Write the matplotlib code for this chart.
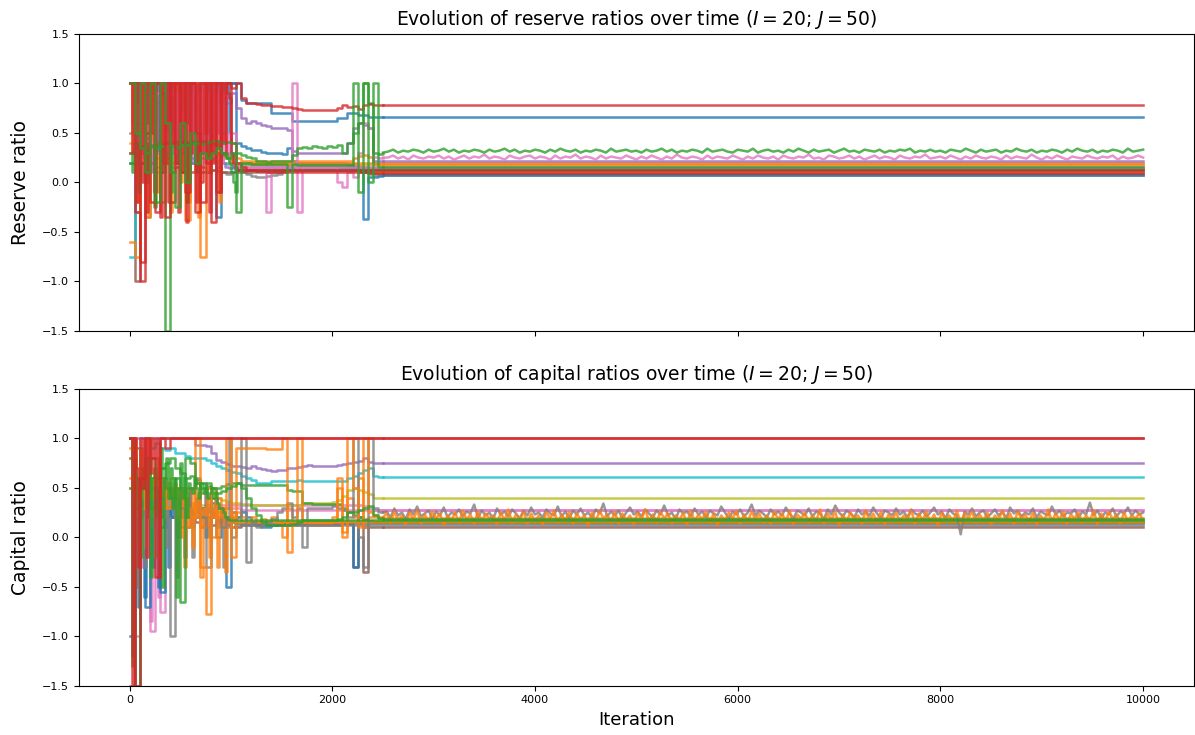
#!/usr/bin/env python3
"""
Reserve ratios and capital ratios over the iterations (I = 20 banks; J = 50).
Two stacked panels, shared x axis. Values read off the original figure.
"""

import numpy as np
import matplotlib
matplotlib.use("Agg")
import matplotlib.pyplot as plt

# ---------------------------------------------------------------------------
# Data: each series = early values on a regular iteration grid (step 50, or
# step 20 for the very spiky ones) followed by the values after convergence
# (a single value when the series stays flat up to iteration 10000).
# ---------------------------------------------------------------------------
LAST_ITER = 10000
YTICKS = [-1.5, -1.0, -0.5, 0.0, 0.5, 1.0, 1.5]

# --- reserve ratios (top panel) ---
RES_RED_A = [1.0, -0.3, -1.0, 1.0, -0.2, 1.0, 0.9, -0.35, 1.0, 0.2,
             1.0, -0.1, 1.0, 0.5, -0.2, 1.0, -0.4, 1.0, 0.3, 1.0,
             0.95, 1.0, 0.85, 0.80, 0.80, 0.79, 0.78, 0.78, 0.77, 0.77,
             0.76, 0.76, 0.75, 0.74, 0.73, 0.73, 0.73, 0.73, 0.73, 0.73,
             0.73, 0.75, 0.78, 0.76, 0.77, 0.74, 0.78, 0.79, 0.78, 0.78, 0.78]
RES_RED_A_LATE = [0.78]

RES_RED_B = [1.0, 1.0, -0.8, 0.5, 1.0, -0.3, 1.0, 1.0, -0.2, 1.0,
             0.1, 1.0, 1.0, -0.3, 1.0, 0.2, 1.0, -0.1, 1.0, 1.0,
             0.4, 0.2, 0.15, 0.12, 0.12, 0.11, 0.11, 0.10, 0.10, 0.10,
             0.10, 0.10, 0.10, 0.10, 0.10, 0.10, 0.10, 0.10, 0.10, 0.10,
             0.10, 0.10, 0.10, 0.10, 0.10, 0.10, 0.10, 0.10, 0.09, 0.09, 0.09]
RES_RED_B_LATE = [0.09]

RES_RED_C = [1.0, 0.3, 1.0, -0.2, 1.0, 1.0, 0.0, 1.0, -0.3, 1.0,
             0.5, 1.0, -0.1, 1.0, 1.0, -0.35, 1.0, 0.2, 1.0, -0.2,
             1.0, 0.4, 1.0, 1.0, -0.3, 1.0, 0.1, 1.0, -0.4, 1.0,
             0.3, 1.0, 1.0, -0.2, 1.0, 0.0, 1.0, 0.5, 1.0, -0.3,
             1.0, 0.2, 1.0, 1.0, -0.1, 1.0, 0.4, 1.0, 0.9, 0.85,
             0.3, 0.2, 0.15, 0.12, 0.12, 0.12]
RES_RED_C_LATE = [0.12]

RES_BLUE_A = [1.0] * 22 + [0.83, 0.80, 0.80, 0.80, 0.80, 0.80, 0.70, 0.70,
                           0.70, 0.70, 0.62, 0.62, 0.62, 0.62, 0.62, 0.62,
                           0.62, 0.62, 0.62, 0.65, 0.65, 0.70, 0.70, 0.68,
                           0.68, 0.66, 0.66, 0.66, 0.66]
RES_BLUE_A_LATE = [0.66]

RES_BLUE_B = [0.2, 1.0, 0.6, 1.0, 0.3, 0.8, 1.0, 0.4, 1.0, 0.5,
              0.3, 0.9, 0.2, 1.0, 0.5, 0.3, 1.0, -0.35, 0.5, 1.0,
              1.0, 0.4, 0.37, 0.35, 0.33, 0.33, 0.31, 0.30, 0.30, 0.30,
              0.29, 0.35, 0.22, 0.20, 0.20, 0.20, 0.20, 0.20, 0.20, 0.20,
              0.20, 0.20, 0.20, 0.19, 0.15, 0.10, -0.37, 0.05, 0.05, 0.06, 0.07]
RES_BLUE_B_LATE = [0.07]

RES_BLUE_C = [1.0, 0.6, 1.0, 0.8, 1.0, 0.5, 1.0, 0.7, 1.0, 1.0,
              0.4, 1.0, 0.9, 1.0, 0.3, 1.0, 0.8, 1.0, 0.6, 1.0,
              1.0, 0.5, 1.0, 0.7, 1.0, 0.4, 1.0, 1.0, 0.6, 1.0,
              0.8, 1.0, 0.5, 1.0, 0.9, 1.0, 0.3, 1.0, 0.7, 1.0,
              1.0, 0.6, 1.0, 0.8, 1.0, 1.0, 0.9, 1.0, 1.0, 0.5,
              0.3, 0.15, 0.12, 0.12, 0.12, 0.12]
RES_BLUE_C_LATE = [0.12]

RES_GREEN_A = [0.2, 0.5, 0.35, 0.3, 0.36, 0.35, 0.37, -1.5, 0.37, 0.36,
               0.38, 0.38, 0.40, 0.40, 0.39, 0.41, 0.42, 0.42, 0.40, 0.41,
               0.40, 0.30, 0.28, 0.26, 0.25, 0.22, 0.22, 0.21, 0.22, 0.22,
               0.22, 0.22, 0.28, 0.35, 0.36, 0.35, 0.37, 0.36, 0.35, 0.37,
               0.36, 0.38, 0.30, 0.40, 0.50, 0.60, 1.0, 0.8, 0.30, 0.29, 0.30]
RES_GREEN_A_LATE = [0.31, 0.33, 0.30, 0.32, 0.31, 0.33, 0.32, 0.30, 0.33, 0.31,
                    0.32, 0.34, 0.31, 0.33, 0.30, 0.32, 0.31, 0.33, 0.32, 0.30,
                    0.33, 0.31, 0.32, 0.34, 0.31, 0.33, 0.30, 0.32, 0.31, 0.33,
                    0.32, 0.30, 0.33, 0.31, 0.34, 0.32, 0.31, 0.33, 0.30, 0.32,
                    0.31, 0.33, 0.32, 0.30, 0.34, 0.31, 0.32, 0.33, 0.31, 0.32,
                    0.30, 0.33, 0.31, 0.32, 0.34, 0.31, 0.33, 0.30, 0.32, 0.31,
                    0.33, 0.32, 0.30, 0.34, 0.31, 0.32, 0.33, 0.31, 0.30, 0.33,
                    0.32, 0.31, 0.34, 0.30, 0.32, 0.33, 0.31, 0.32, 0.30, 0.33,
                    0.31, 0.34, 0.32, 0.30, 0.33, 0.31, 0.32, 0.33, 0.30, 0.32,
                    0.34, 0.31, 0.32, 0.30, 0.33, 0.32, 0.31, 0.33, 0.30, 0.32,
                    0.31, 0.33, 0.32, 0.34, 0.30, 0.32, 0.31, 0.33, 0.31, 0.32,
                    0.30, 0.33, 0.32, 0.31, 0.34, 0.32, 0.30, 0.33, 0.31, 0.32,
                    0.33, 0.30, 0.32, 0.31, 0.34, 0.32, 0.31, 0.33, 0.30, 0.32,
                    0.31, 0.33, 0.32, 0.30, 0.33, 0.31, 0.34, 0.32, 0.31, 0.33,
                    0.30, 0.32, 0.31, 0.33, 0.32, 0.30, 0.34, 0.31, 0.32, 0.33]

RES_GREEN_B = [1.0, 0.5, 1.0, 0.1, 1.0, -0.2, 1.0, 0.6, 0.1, -0.25,
               0.6, 0.0, 0.5, 0.2, 0.3, 0.25, 0.3, 0.35, 0.3, 0.25,
               0.3, -0.3, 0.20, 0.20, 0.19, 0.19, 0.18, 0.18, 0.18, 0.18,
               0.18, -0.25, 0.18, 0.17, 0.17, 0.17, 0.17, 0.17, 0.17, 0.17,
               0.17, 0.17, 0.17, 0.17, 1.0, -0.1, 1.0, 0.0, 1.0, 0.15, 0.15]
RES_GREEN_B_LATE = [0.15]

RES_GREEN_C = [0.3, 0.1, 0.35, 0.4, -0.1, 0.35, 0.37, 0.36, 0.0, 0.38,
               0.37, 0.38, -0.25, 0.38, 0.4, 0.39, 0.1, 0.4, 0.41, 0.4,
               -0.1, 0.4, 0.42, 0.41, 0.2, 0.42, 0.41, 0.4, -0.2, 0.41,
               0.42, 0.40, 0.42, 0.1, 0.41, 0.42, 0.40, 0.42, 0.25, 0.42,
               0.41, 0.40, 0.38, 0.42, 0.35, 0.3, 0.28, 0.3, 0.25, 0.2,
               0.1, 0.0, -0.1, 0.12, 0.12, 0.12]
RES_GREEN_C_LATE = [0.12]

RES_PURPLE = [1.0, 0.6, 1.0, 0.4, 0.9, 1.0, 0.5, 1.0, 0.3, 0.8,
              1.0, 0.6, 1.0, 0.9, 0.95, 1.0, 0.9, 0.88, 0.85, 0.80,
              0.90, 0.75, 0.65, 0.60, 0.62, 0.60, 0.58, 0.57, 0.55, 0.55,
              0.55, 0.53, 0.32, 0.30, 0.30, 0.30, 0.30, 0.30, 0.30, 0.30,
              0.30, 0.30, 0.30, 0.40, 0.55, 0.60, 0.58, 0.55, 0.22, 0.22, 0.22]
RES_PURPLE_LATE = [0.22]

RES_PURPLE_B = [1.0, 0.5, 1.0, 0.2, 1.0, 0.9, 0.3, 1.0, 0.6, 1.0,
                0.1, 1.0, 0.8, 0.4, 1.0, 0.2, 0.9, 1.0, 0.5, 1.0,
                0.3, 1.0, 0.85, 0.2, 1.0, 0.6, 1.0, 0.4, 0.9, 1.0,
                0.2, 1.0, 0.7, 1.0, 0.3, 0.9, 0.5, 1.0, 0.8, 0.3,
                1.0, 0.9, 0.5, 0.9, 0.85, 0.3, 0.2, 0.15, 0.15, 0.14,
                0.14, 0.14, 0.14, 0.14, 0.14, 0.14]
RES_PURPLE_B_LATE = [0.14]

RES_PINK = [1.0, 0.2, 1.0, 0.8, 0.3, 0.9, 0.5, 0.4, 0.9, 0.3,
            1.0, 0.2, 0.7, 0.3, 0.9, 1.0, 0.9, 0.2, 1.0, 0.3,
            0.5, 0.2, 0.15, 0.14, 0.14, 0.14, 0.15, -0.3, 0.15, 0.15,
            0.15, 0.14, 1.0, -0.3, 0.15, 0.15, 0.15, 0.15, 0.15, 0.15,
            0.15, 0.0, -0.05, 0.1, 0.05, 0.3, 0.6, 0.55, 0.26, 0.25, 0.25]
RES_PINK_LATE = [0.25, 0.27, 0.24, 0.26, 0.23, 0.27, 0.25, 0.24, 0.26, 0.25,
                 0.27, 0.24, 0.26, 0.23, 0.25, 0.27, 0.24, 0.26, 0.25, 0.28,
                 0.24, 0.26, 0.25, 0.23, 0.27, 0.25, 0.24, 0.26, 0.27, 0.24,
                 0.26, 0.25, 0.23, 0.27, 0.24, 0.26, 0.25, 0.28, 0.24, 0.26,
                 0.25, 0.23, 0.27, 0.24, 0.26, 0.25, 0.24, 0.27, 0.25, 0.23,
                 0.26, 0.24, 0.27, 0.25, 0.23, 0.26, 0.24, 0.28, 0.25, 0.24,
                 0.26, 0.25, 0.23, 0.27, 0.24, 0.26, 0.25, 0.24, 0.27, 0.25,
                 0.23, 0.26, 0.24, 0.27, 0.25, 0.24, 0.26, 0.23, 0.27, 0.25,
                 0.24, 0.26, 0.25, 0.28, 0.24, 0.25, 0.23, 0.27, 0.26, 0.24,
                 0.25, 0.27, 0.24, 0.26, 0.23, 0.25, 0.27, 0.24, 0.26, 0.25,
                 0.23, 0.27, 0.25, 0.24, 0.26, 0.25, 0.28, 0.24, 0.25, 0.26,
                 0.24, 0.27, 0.25, 0.23, 0.26, 0.24, 0.27, 0.25, 0.24, 0.26,
                 0.25, 0.23, 0.27, 0.24, 0.26, 0.25, 0.24, 0.28, 0.25, 0.23,
                 0.26, 0.24, 0.27, 0.25, 0.23, 0.26, 0.25, 0.24, 0.27, 0.25,
                 0.24, 0.26, 0.25, 0.27, 0.23, 0.26, 0.24, 0.25, 0.27, 0.25]

RES_PINK_B = [0.3, 0.3, 0.4, 0.3, 0.3, 0.5, 0.3, 0.35, 0.3, 0.3,
              0.4, 0.3, 0.6, 0.3, 0.3, 0.35, 0.3, 0.3, 0.5, 0.3,
              0.3, 0.4, 0.3, 0.9, 0.3, 0.3, 0.7, 0.3, 0.3, 0.35,
              0.9, 0.3, 1.0, 0.4, 0.9, 0.3, 1.0, 0.2, 0.9, 0.6,
              1.0, 0.3, 0.9, 0.5, 1.0, 0.2, 0.9, 0.3, 0.5, 0.2,
              0.2, 0.18, 0.16, 0.15, 0.15, 0.15]
RES_PINK_B_LATE = [0.15]

RES_ORANGE_A = [-0.6, -0.75, 0.3, 1.0, 0.3, 0.25, -0.2, 0.3, 0.32, 1.0,
                0.30, -0.38, 0.30, 1.0, -0.75, 0.28, 0.30, 0.30, 1.0, 0.28,
                0.25, 0.25, 0.22, 0.22, 0.22, 0.22, 0.22, 0.22, 0.22, 0.22,
                0.22, 0.22, 0.22, 0.22, 0.22, 0.22, 0.22, 0.22, 0.22, 0.22,
                0.22, 0.22, 0.22, 0.22, 0.25, 0.27, 0.28, 0.26, 0.19, 0.19, 0.19]
RES_ORANGE_A_LATE = [0.19]

RES_ORANGE_B = [1.0, 0.5, 1.0, 0.2, 1.0, 0.3, 0.8, 1.0, 0.2, 0.6,
                1.0, 0.3, 1.0, 0.1, 0.8, 1.0, 0.4, 0.3, 0.5, 0.3,
                0.2, 0.18, 0.20, 0.20, 0.19, 0.19, 0.19, 0.19, 0.19, 0.19,
                0.19, 0.19, 0.19, 0.19, 0.19, 0.19, 0.19, 0.19, 0.19, 0.19,
                0.19, 0.19, 0.19, 0.19, 0.18, 0.16, 0.14, 0.12, 0.10, 0.10, 0.10]
RES_ORANGE_B_LATE = [0.10]

RES_ORANGE_C = [0.3, 1.0, 0.3, -0.2, 0.3, 0.3, 1.0, 0.25, 0.3, -0.35,
                0.3, 1.0, 0.3, 0.3, -0.1, 0.3, 1.0, 0.3, 0.2, 0.3,
                -0.3, 0.3, 1.0, 0.3, 0.3, 0.0, 0.3, 1.0, 0.3, -0.2,
                0.3, 0.3, 1.0, 0.3, -0.35, 0.3, 1.0, 0.3, 0.3, 0.1,
                0.3, 1.0, 0.3, 0.3, -0.2, 0.3, 0.3, 0.25, 0.28, 0.25,
                0.22, 0.2, 0.2, 0.2, 0.2, 0.2]
RES_ORANGE_C_LATE = [0.2]

RES_CYAN = [-0.75, 1.0, 0.6, 0.45, 0.45, 0.42, 0.50, 0.45, 0.40, 0.45,
            0.42, 0.40, 0.38, 0.35, 0.30, 0.28, 0.25, 0.22, 0.20, 0.18,
            0.20, 0.19, 0.18, 0.18, 0.17, 0.17, 0.17, 0.16, 0.16, 0.16,
            0.16, 0.16, 0.16, 0.16, 0.16, 0.16, 0.16, 0.16, 0.16, 0.16,
            0.16, 0.16, 0.16, 0.16, 0.15, 0.15, 0.15, 0.14, 0.14, 0.14, 0.14]
RES_CYAN_LATE = [0.14]

RES_GREY = [0.5, -0.3, 0.2, -0.35, 0.3, 0.1, 0.2, 0.25, 0.15, 0.2,
            0.3, 0.2, 0.25, 0.2, 0.15, 0.1, 0.12, 0.15, 0.10, 0.08,
            0.10, 0.12, 0.10, 0.08, 0.06, 0.05, 0.05, 0.06, 0.07, 0.08,
            0.10, 0.12, 0.13, 0.13, 0.13, 0.13, 0.13, 0.13, 0.13, 0.13,
            0.13, 0.13, 0.14, 0.14, 0.14, 0.13, 0.10, 0.08, 0.07, 0.07, 0.07]
RES_GREY_LATE = [0.07]

RES_BROWN = [0.3, -1.0, 0.2, 0.1, 0.2, 0.15, 0.1, 0.2, 0.1, 0.15,
             0.1, 0.12, 0.1, 0.12, 0.1, 0.1, 0.12, 0.11, 0.1, 0.1,
             0.1, 0.1, 0.1, 0.1, 0.1, 0.1, 0.1, 0.1, 0.1, 0.1,
             0.12, 0.13, 0.14, 0.14, 0.14, 0.14, 0.14, 0.14, 0.14, 0.14,
             0.14, 0.14, 0.14, 0.14, 0.14, 0.12, 0.10, 0.09, 0.09, 0.09, 0.09]
RES_BROWN_LATE = [0.09]

RES_OLIVE = [0.4, 0.3, 0.45, 0.5, 0.35, 0.3, 0.5, 0.55, 0.3, 0.28,
             0.3, 0.25, 0.3, 0.2, 0.25, 0.3, 0.22, 0.2, 0.2, 0.2,
             0.18, 0.17] + [0.17] * 29
RES_OLIVE_LATE = [0.17]

# --- capital ratios (bottom panel) ---
CAP_RED = [1.0, -1.5, 0.6, 1.0, 0.8, -0.4, 1.0, 0.9] + [1.0] * 43
CAP_RED_LATE = [1.0]

CAP_RED_B = [1.0, -1.5, 1.0, 0.7, -0.3, 1.0, 0.5, 1.0, -0.2, 1.0,
             0.65, 1.0, 0.8, 1.0, -0.4, 1.0] + [1.0] * 40
CAP_RED_B_LATE = [1.0]

CAP_PURPLE = [1.0] * 13 + [0.93, 0.93, 0.92, 0.85, 0.78, 0.76, 0.74, 0.72, 0.72, 0.71,
                           0.70, 0.72, 0.70, 0.69, 0.68, 0.67, 0.68, 0.68, 0.70, 0.70,
                           0.71, 0.72, 0.73, 0.72, 0.72, 0.72, 0.72, 0.72, 0.73, 0.74,
                           0.75, 0.76, 0.77, 0.80, 0.76, 0.75, 0.75, 0.75]
CAP_PURPLE_LATE = [0.75]

CAP_CYAN = [1.0, -1.5, 0.5, 1.0, 0.9, 0.95, 0.9, 0.88, 0.9, 0.85,
            0.85, 0.82, 0.80, 0.80, 0.80, 0.78, 0.75, 0.72, 0.70, 0.68,
            0.66, 0.65, 0.62, 0.60, 0.58, 0.55, 0.55, 0.55, 0.57, 0.57,
            0.57, 0.57, 0.57, 0.58, 0.57, 0.57, 0.57, 0.57, 0.57, 0.57,
            0.57, 0.57, 0.57, 0.60, 0.62, 0.65, 0.68, 0.70, 0.62, 0.61, 0.61]
CAP_CYAN_LATE = [0.61]

CAP_OLIVE = [0.5, 0.3, 0.5, 0.2, 0.4, -0.2, 0.3, 0.4, 0.6, 0.5,
             0.4, 0.45, 0.5, 0.55, 0.45, 0.4, 0.45, 0.4, 0.38, 0.36,
             0.35, 0.35, 0.34, 0.34, 0.33, 0.33, 0.33, 0.33, 0.33, 0.33,
             0.33, 0.33, 0.33, 0.33, 0.35, 0.35, 0.35, 0.35, 0.35, 0.35,
             0.36, 0.38, 0.42, 0.48, 0.50, 0.48, 0.46, 0.44, 0.40, 0.40, 0.40]
CAP_OLIVE_LATE = [0.40]

CAP_OLIVE_B = [1.0, 0.5, 0.8, 0.2, 0.6, 0.4, 0.7, -0.1, 0.5, 0.3,
               0.6, 0.2, 0.5, 0.4, 0.65, 0.3, 0.5, 0.2, 0.45, 0.55,
               0.3, 0.5, 0.4, 0.35, 0.45, 0.3, 0.4, 0.5, 0.35, 0.4,
               0.35, 0.3, 0.35, 0.35, 0.33, 0.33, 0.33, 0.33, 0.33, 0.33,
               0.33, 0.33, 0.30, 0.28, 0.25, 0.22, 0.20, 0.18, 0.17, 0.16,
               0.16, 0.16, 0.16, 0.16, 0.16, 0.16]
CAP_OLIVE_B_LATE = [0.16]

CAP_GREEN_A = [1.0, -1.5, 0.5, 0.8, 0.3, 0.6, 0.7, 0.5, 0.4, 0.6,
               -0.65, 0.8, 0.75, 0.55, 0.5, 0.55, 0.50, 0.45, 0.47, 0.50,
               0.52, 0.55, 0.50, 0.40, 0.30, 0.22, 0.15, 0.12, 0.12, 0.12,
               0.12, 0.12, 0.13, 0.15, 0.17, 0.17, 0.17, 0.17, 0.17, 0.17,
               0.17, 0.18, 0.20, 0.25, 0.26, 0.28, 0.30, 0.32, 0.22, 0.19, 0.18]
CAP_GREEN_A_LATE = [0.18]

CAP_GREEN_B = [0.5, 0.9, 0.6, 0.7, 0.8, 0.6, 0.7, 0.75, 0.8, 0.7,
               0.65, 0.6, 0.62, 0.58, 0.55, 0.52, 0.50, 0.50, 0.52, 0.54,
               0.55, 0.55, 0.53, 0.53, 0.53, 0.53, 0.53, 0.53, 0.53, 0.53,
               0.53, 0.48, 0.47, 0.47, 0.35, 0.35, 0.34, 0.34, 0.34, 0.34,
               0.34, 0.34, 0.30, 0.25, 0.22, 0.20, 0.18, 0.16, 0.15, 0.15, 0.15]
CAP_GREEN_B_LATE = [0.15]

CAP_GREEN_C = [1.0, -1.3, 0.8, 0.3, 0.6, -0.2, 0.7, 0.5, 0.3, 0.8,
               -0.4, 0.6, 0.7, 0.2, 0.5, 0.9, -0.5, 0.6, 0.8, 0.4,
               0.7, 0.3, 0.6, -0.6, 0.5, 0.75, 0.4, 0.6, 0.2, 0.55,
               0.5, 0.45, 0.6, 0.5, 0.4, 0.55, 0.45, 0.5, 0.4, 0.45,
               0.5, 0.4, 0.45, 0.35, 0.3, 0.3, 0.25, 0.2, 0.18, 0.17,
               0.17, 0.17, 0.17, 0.17, 0.17, 0.17]
CAP_GREEN_C_LATE = [0.17]

CAP_ORANGE_A = [0.9, 0.5, 0.3, 0.6, 0.4, 0.5, 0.6, 0.3, 0.5, 0.4,
                0.5, 0.3, 0.2, 1.0, -0.3, -0.78, 0.5, 0.2, 0.3, 1.0,
                -0.2, 0.9, 0.9, 0.9, 0.9, 0.9, 0.9, 0.89, 0.89, 0.89,
                1.0, -0.15, 0.15, 1.0, 0.15, 0.15, 0.15, 0.15, 0.15, 0.15,
                0.15, 0.6, 0.0, 1.0, 0.5, 0.1, 1.0, 0.25, 0.22, 0.20, 0.20]
CAP_ORANGE_A_LATE = [0.24, 0.15, 0.26, 0.17, 0.22, 0.13, 0.25, 0.18, 0.27, 0.14,
                     0.23, 0.16, 0.26, 0.19, 0.24, 0.12, 0.22, 0.17, 0.25, 0.15,
                     0.27, 0.18, 0.23, 0.14, 0.26, 0.16, 0.24, 0.19, 0.22, 0.13,
                     0.25, 0.17, 0.28, 0.15, 0.23, 0.18, 0.26, 0.14, 0.24, 0.16,
                     0.22, 0.13, 0.25, 0.19, 0.27, 0.15, 0.23, 0.17, 0.26, 0.14,
                     0.24, 0.18, 0.22, 0.12, 0.25, 0.16, 0.27, 0.19, 0.23, 0.15,
                     0.26, 0.14, 0.24, 0.17, 0.22, 0.13, 0.25, 0.18, 0.28, 0.16,
                     0.23, 0.15, 0.26, 0.19, 0.24, 0.14, 0.22, 0.17, 0.25, 0.13,
                     0.27, 0.16, 0.23, 0.18, 0.26, 0.15, 0.24, 0.12, 0.22, 0.17,
                     0.25, 0.19, 0.27, 0.14, 0.23, 0.16, 0.26, 0.18, 0.24, 0.15,
                     0.22, 0.14, 0.26, 0.18, 0.24, 0.16, 0.27, 0.13, 0.23, 0.19,
                     0.25, 0.15, 0.22, 0.17, 0.28, 0.14, 0.24, 0.18, 0.26, 0.12,
                     0.23, 0.16, 0.25, 0.19, 0.22, 0.14, 0.27, 0.17, 0.24, 0.15,
                     0.26, 0.13, 0.23, 0.18, 0.25, 0.16, 0.22, 0.19, 0.27, 0.14,
                     0.24, 0.17, 0.26, 0.15, 0.23, 0.12, 0.25, 0.18, 0.22, 0.16,
                     0.27, 0.14, 0.24, 0.19, 0.26, 0.15, 0.23, 0.17, 0.25, 0.13,
                     0.22, 0.18, 0.27, 0.16, 0.24, 0.14, 0.26, 0.19, 0.23, 0.15,
                     0.25, 0.13, 0.22, 0.17, 0.28, 0.16, 0.24, 0.18, 0.26, 0.14,
                     0.23, 0.19, 0.25, 0.15, 0.22, 0.17, 0.27, 0.13, 0.24, 0.16,
                     0.26, 0.18, 0.23, 0.14, 0.25, 0.16, 0.22, 0.19, 0.24, 0.17]

CAP_ORANGE_B = [0.6, 0.3, 0.7, 0.5, 0.2, 0.6, 0.4, 0.55, 0.3, 0.5,
                0.45, 0.5, 0.2, 0.55, 0.1, 0.5, 0.0, 0.4, 0.2, 0.3,
                0.1, 0.25, 0.2, 0.15, 0.2, 0.15, 0.18, 0.15, 0.2, 0.15,
                0.0, 0.3, 0.15, 0.15, 0.15, 0.14, 0.14, 0.14, 0.14, 0.14,
                0.2, 0.5, 0.05, 0.4, 0.2, 0.6, 0.1, 0.2, 0.20, 0.19, 0.19]
CAP_ORANGE_B_LATE = [0.19]

CAP_ORANGE_C = [0.8, 0.5, 1.0, 0.3, 0.6, 0.9, 0.4, 0.7, 0.5, 1.0,
                0.6, 0.4, 0.7, 0.5, 0.8, 0.4, 0.6, 0.3, 0.5, 0.45,
                0.5, 0.4, 0.55, 0.2, 0.5, 0.0, 0.45, -0.3, 0.4, 0.1,
                0.5, -0.1, 0.35, 0.2, 0.45, -0.4, 0.3, 0.1, 0.4, -0.2,
                0.3, 0.2, 0.35, -0.3, 0.25, 0.1, 0.3, -0.35, 0.2, 0.15,
                0.25, 0.15, 0.2, 0.15, 0.15, 0.15]
CAP_ORANGE_C_LATE = [0.15]

CAP_GREY = [0.8, 0.3, 0.6, 0.2, 0.5, 0.3, 0.4, 0.2, -1.0, 0.4,
            0.3, 0.2, 0.5, 0.6, 0.2, -0.3, 0.4, 0.3, 0.1, 0.2,
            0.0, 0.2, 1.0, -0.25, 0.15, 0.10, 0.12, 0.15, 0.18, 0.25,
            0.30, 0.35, 0.20, 0.30, -0.1, 0.30, 0.30, 0.30, 0.30, 0.30,
            0.32, 0.30, 0.28, 0.20, 1.0, 0.0, -0.3, 1.0, 0.30, 0.26, 0.25]
CAP_GREY_LATE = [0.26, 0.20, 0.29, 0.22, 0.25, 0.18, 0.28, 0.23, 0.31, 0.21,
                 0.24, 0.27, 0.19, 0.26, 0.22, 0.30, 0.20, 0.25, 0.23, 0.28,
                 0.21, 0.26, 0.24, 0.33, 0.20, 0.27, 0.22, 0.25, 0.18, 0.29,
                 0.23, 0.26, 0.21, 0.28, 0.24, 0.19, 0.27, 0.22, 0.30, 0.23,
                 0.25, 0.20, 0.28, 0.24, 0.22, 0.31, 0.21, 0.26, 0.19, 0.27,
                 0.23, 0.29, 0.22, 0.25, 0.20, 0.28, 0.24, 0.34, 0.21, 0.26,
                 0.22, 0.27, 0.19, 0.25, 0.30, 0.23, 0.26, 0.21, 0.28, 0.24,
                 0.20, 0.27, 0.23, 0.32, 0.22, 0.25, 0.18, 0.28, 0.24, 0.26,
                 0.21, 0.29, 0.23, 0.26, 0.20, 0.27, 0.24, 0.22, 0.31, 0.25,
                 0.19, 0.26, 0.23, 0.28, 0.21, 0.25, 0.33, 0.22, 0.27, 0.24,
                 0.20, 0.28, 0.23, 0.26, 0.22, 0.30, 0.24, 0.19, 0.27, 0.25,
                 0.22, 0.29, 0.21, 0.26, 0.24, 0.18, 0.28, 0.23, 0.32, 0.25,
                 0.21, 0.27, 0.24, 0.20, 0.28, 0.23, 0.26, 0.22, 0.30, 0.24,
                 0.19, 0.27, 0.25, 0.22, 0.29, 0.23, 0.26, 0.20, 0.28, 0.24,
                 0.22, 0.27, 0.21, 0.25, 0.30, 0.23, 0.26, 0.19, 0.28, 0.24,
                 0.22, 0.03, 0.26, 0.23, 0.29, 0.21, 0.25, 0.27, 0.20, 0.24,
                 0.28, 0.22, 0.26, 0.19, 0.30, 0.24, 0.27, 0.21, 0.25, 0.23,
                 0.29, 0.20, 0.26, 0.24, 0.22, 0.31, 0.23, 0.27, 0.21, 0.25,
                 0.24, 0.28, 0.20, 0.26, 0.23, 0.35, 0.22, 0.27, 0.19, 0.25,
                 0.23, 0.29, 0.21, 0.26, 0.24, 0.30, 0.22, 0.27, 0.23, 0.25]

CAP_GREY_B = [1.0, 0.2, 0.5, -0.5, 0.6, 0.2, 0.4, -0.3, 0.5, 0.3,
              0.6, 0.1, 0.4, -0.2, 0.5, 0.3, 0.2, 0.6, -0.1, 0.4,
              0.3, 0.5, 0.2, -0.4, 0.4, 0.3, 0.5, 0.1, 0.3, 0.4,
              0.2, -0.2, 0.3, 0.4, 0.2, 0.1, 0.3, 0.5, 0.2, 0.0,
              0.3, 0.2, 0.4, 0.1, 0.2, 0.3, -0.3, 0.2, 0.1, 1.0,
              0.2, 0.15, 0.1, 0.12, 0.12, 0.12]
CAP_GREY_B_LATE = [0.12]

CAP_PINK = [1.0, -1.0, 1.0, 0.6, -0.95, 0.2, -0.75, 0.3, 0.4, 0.2,
            0.3, 0.45, 0.3, 0.35, 0.3, 0.33, 0.33, 0.33, 0.33, 0.33,
            0.33, 0.33, 0.33, 0.33, 0.33, 0.33, 0.33, 0.33, 0.33, 0.33,
            0.33, 0.33, 0.33, 0.33, 0.33, 0.33, 0.33, 0.33, 0.33, 0.33,
            0.33, 0.33, 0.33, 0.33, 0.33, 0.33, 0.32, 0.30, 0.28, 0.28, 0.28]
CAP_PINK_LATE = [0.28]

CAP_PINK_B = [1.0, 0.4, 1.0, -0.5, 0.6, 0.9, -0.3, 0.5, 1.0, 0.2,
              -0.85, 0.6, 0.4, 0.8, -0.6, 0.5, 0.3, 0.6, 0.4, 0.5,
              0.3, 0.45, 0.35, 0.4, 0.3, 0.35, 0.3, 0.32] + [0.3] * 27 + [0.28]
CAP_PINK_B_LATE = [0.28]

CAP_BLUE = [-1.0, 0.5, 0.3, -0.7, 0.2, 0.4, -0.55, 0.3, 0.2, 0.35,
            0.1, 0.3, 0.25, 0.2, 0.3, 0.2, 0.35, 0.0, 0.2, -0.5,
            0.25, 0.2, 0.25, 0.2, 0.15, 0.12, 0.10, 0.10, 0.12, 0.12,
            0.14, 0.14, 0.14, 0.14, 0.14, 0.14, 0.14, 0.14, 0.14, 0.14,
            0.14, 0.16, 0.14, 0.13, -0.3, 0.2, 0.10, 0.15, 0.15, 0.15, 0.15]
CAP_BLUE_LATE = [0.15]

CAP_BLUE_B = [1.0, -1.2, 0.5, 0.2, -0.7, 0.4, 0.3, -0.6, 0.5, 0.2,
              0.4, -0.3, 0.3, 0.5, -0.5, 0.2, 0.4, 0.1, 0.3, -0.3,
              0.4, 0.2, 0.3, 0.0, 0.35, 0.2, 0.4, -0.2, 0.3, 0.25,
              0.3, 0.1, 0.35, 0.25, 0.3, 0.2, 0.3, 0.0, 0.25, 0.3,
              0.2, 0.25, 0.2, 0.15, 0.2, 0.25, 0.15, 0.2, 0.2, 0.15,
              0.15, 0.15, 0.14, 0.14, 0.14, 0.14]
CAP_BLUE_B_LATE = [0.14]

CAP_BROWN = [-1.5, 0.3, 0.2, 0.3, 0.5, 0.2, 0.1, 0.3, 0.2, 0.3,
             0.2, 0.1, 0.2, 0.15, 0.2, 0.1, 0.12, 0.15, 0.15, 0.12,
             0.10, 0.10, 0.12, 0.12, 0.12, 0.12, 0.12, 0.12, 0.12, 0.12,
             0.12, 0.12, 0.12, 0.12, 0.12, 0.12, 0.12, 0.12, 0.12, 0.12,
             0.12, 0.12, 0.14, 0.15, -0.3, 0.15, -0.35, 0.10, 0.10, 0.10, 0.10]
CAP_BROWN_LATE = [0.10]

# drawing order (later = on top): (early values, grid step, late values, colour)
RESERVE_SERIES = [
    (RES_GREY, 50, RES_GREY_LATE, "C7"),
    (RES_BROWN, 50, RES_BROWN_LATE, "C5"),
    (RES_OLIVE, 50, RES_OLIVE_LATE, "C8"),
    (RES_CYAN, 50, RES_CYAN_LATE, "C9"),
    (RES_BLUE_C, 20, RES_BLUE_C_LATE, "C0"),
    (RES_ORANGE_B, 50, RES_ORANGE_B_LATE, "C1"),
    (RES_BLUE_B, 50, RES_BLUE_B_LATE, "C0"),
    (RES_BLUE_A, 50, RES_BLUE_A_LATE, "C0"),
    (RES_PURPLE_B, 20, RES_PURPLE_B_LATE, "C4"),
    (RES_ORANGE_C, 20, RES_ORANGE_C_LATE, "C1"),
    (RES_ORANGE_A, 50, RES_ORANGE_A_LATE, "C1"),
    (RES_PURPLE, 50, RES_PURPLE_LATE, "C4"),
    (RES_PINK_B, 20, RES_PINK_B_LATE, "C6"),
    (RES_PINK, 50, RES_PINK_LATE, "C6"),
    (RES_GREEN_C, 20, RES_GREEN_C_LATE, "C2"),
    (RES_RED_B, 50, RES_RED_B_LATE, "C3"),
    (RES_RED_C, 20, RES_RED_C_LATE, "C3"),
    (RES_GREEN_A, 50, RES_GREEN_A_LATE, "C2"),
    (RES_RED_A, 50, RES_RED_A_LATE, "C3"),
    (RES_GREEN_B, 50, RES_GREEN_B_LATE, "C2"),
]

CAPITAL_SERIES = [
    (CAP_BROWN, 50, CAP_BROWN_LATE, "C5"),
    (CAP_PINK, 50, CAP_PINK_LATE, "C6"),
    (CAP_PINK_B, 20, CAP_PINK_B_LATE, "C6"),
    (CAP_BLUE, 50, CAP_BLUE_LATE, "C0"),
    (CAP_BLUE_B, 20, CAP_BLUE_B_LATE, "C0"),
    (CAP_OLIVE, 50, CAP_OLIVE_LATE, "C8"),
    (CAP_OLIVE_B, 20, CAP_OLIVE_B_LATE, "C8"),
    (CAP_CYAN, 50, CAP_CYAN_LATE, "C9"),
    (CAP_PURPLE, 50, CAP_PURPLE_LATE, "C4"),
    (CAP_GREEN_B, 50, CAP_GREEN_B_LATE, "C2"),
    (CAP_ORANGE_B, 50, CAP_ORANGE_B_LATE, "C1"),
    (CAP_GREY_B, 20, CAP_GREY_B_LATE, "C7"),
    (CAP_ORANGE_C, 20, CAP_ORANGE_C_LATE, "C1"),
    (CAP_GREY, 50, CAP_GREY_LATE, "C7"),
    (CAP_ORANGE_A, 50, CAP_ORANGE_A_LATE, "C1"),
    (CAP_GREEN_C, 20, CAP_GREEN_C_LATE, "C2"),
    (CAP_GREEN_A, 50, CAP_GREEN_A_LATE, "C2"),
    (CAP_RED_B, 20, CAP_RED_B_LATE, "C3"),
    (CAP_RED, 50, CAP_RED_LATE, "C3"),
]


def draw_series(ax, early, step, late, color):
    x_early = np.arange(len(early)) * step
    start = x_early[-1]
    # the early phase jumps around like a step process
    ax.plot(x_early, early, color=color, lw=1.8, alpha=0.8,
            drawstyle="steps-post")
    # after convergence: flat or small fluctuations
    x_late = np.linspace(start, LAST_ITER, len(late) + 1)
    ax.plot(x_late, [early[-1]] + list(late), color=color, lw=1.8, alpha=0.8)


def style_axis(ax, title, ylabel):
    ax.set_ylim(-1.5, 1.5)
    ax.set_yticks(YTICKS)
    ax.set_xlim(-500, 10500)
    ax.set_title(title, fontsize=13.5)
    ax.set_ylabel(ylabel, fontsize=13.5, labelpad=9)
    ax.tick_params(labelsize=8)


def main():
    fig, (ax1, ax2) = plt.subplots(2, 1, figsize=(11.95, 7.35), dpi=100,
                                   sharex=True)
    fig.subplots_adjust(left=0.066, right=0.999, bottom=0.067, top=0.954,
                        hspace=0.195)

    for early, step, late, color in RESERVE_SERIES:
        draw_series(ax1, early, step, late, color)
    for early, step, late, color in CAPITAL_SERIES:
        draw_series(ax2, early, step, late, color)

    style_axis(ax1, r"Evolution of reserve ratios over time ($I = 20$; $J = 50$)",
               "Reserve ratio")
    style_axis(ax2, r"Evolution of capital ratios over time ($I = 20$; $J = 50$)",
               "Capital ratio")
    ax2.set_xlabel("Iteration", fontsize=13)

    fig.savefig("out.png", dpi=100)
    plt.close(fig)


if __name__ == "__main__":
    main()
